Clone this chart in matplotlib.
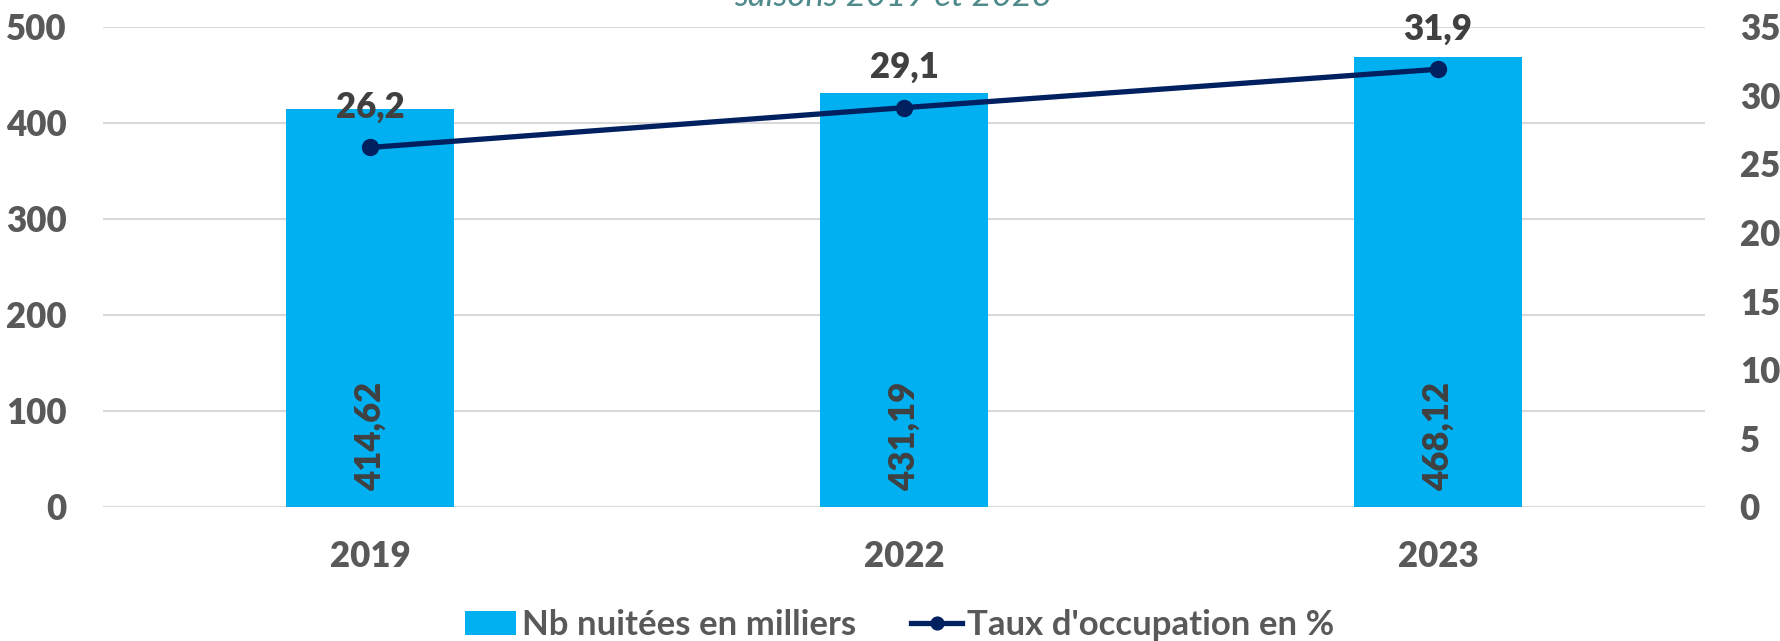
import matplotlib
matplotlib.use("Agg")
import matplotlib.pyplot as plt

years = ["2019", "2022", "2023"]
nuitees = [414.62, 431.19, 468.12]
taux = [26.2, 29.1, 31.9]
left_ticks = [0, 100, 200, 300, 400, 500]
right_ticks = [0, 5, 10, 15, 20, 25, 30, 35]

BAR = "#00B0F0"
LINE = "#002060"
TICK = "#595959"
LABEL = "#404040"

plt.rcParams["font.family"] = ["Lato", "DejaVu Sans"]

fig = plt.figure(figsize=(17.8, 6.41), dpi=100)
ax = fig.add_axes([103 / 1780, 1 - 507 / 641, (1705 - 103) / 1780, (507 - 26.7) / 641])
ax2 = ax.twinx()

x = list(range(len(years)))
ax.bar(x, nuitees, width=0.315, color=BAR, zorder=2, label="Nb nuitées en milliers")
ax.set_xlim(-0.5, len(years) - 0.5)
ax.set_ylim(0, 500)
ax.set_yticks(left_ticks)
ax.set_xticks(x)
ax.set_xticklabels(years)
ax.grid(axis="y", color="#D9D9D9", linewidth=1.5, zorder=0)
ax.set_axisbelow(True)

W = "heavy"
for xi, v in zip(x, nuitees):
    ax.text(xi, 17, f"{v:.2f}".replace(".", ","), rotation=90, ha="center", va="bottom",
            fontsize=25, fontweight=W, color=LABEL, zorder=3)

ax2.plot(x, taux, color=LINE, linewidth=3.8, marker="o", markersize=11.5,
         label="Taux d'occupation en %", zorder=4)
ax2.set_ylim(0, 35)
ax2.set_yticks(right_ticks)
for xi, v in zip(x, taux):
    ax2.annotate(f"{v:.1f}".replace(".", ","), (xi, v), xytext=(0, 29), textcoords="offset points",
                 ha="center", va="center", fontsize=25, fontweight=W, color=LABEL)

for a in (ax, ax2):
    for s in a.spines.values():
        s.set_visible(False)
    a.tick_params(length=0, labelsize=25, labelcolor=TICK)
    for lbl in a.get_yticklabels() + a.get_xticklabels():
        lbl.set_fontweight(W)
ax.tick_params(axis="y", pad=26)
ax2.tick_params(axis="y", pad=25)
ax.tick_params(axis="x", pad=24)

fig.text(893 / 1780, 1 - 6 / 641, "saisons 2019 et 2023", ha="center", va="baseline",
         fontsize=25, fontstyle="italic", color="#4F8A8B")

h1, l1 = ax.get_legend_handles_labels()
h2, l2 = ax2.get_legend_handles_labels()
fig.legend(h1 + h2, l1 + l2, loc="center", bbox_to_anchor=(900 / 1780, 1 - 625 / 641), ncol=2,
           frameon=False, handlelength=1.47, handletextpad=0.15, columnspacing=1.6,
           prop={"size": 25, "weight": "bold"}, labelcolor=TICK, markerscale=0.8)

fig.savefig("out.png", dpi=100)
